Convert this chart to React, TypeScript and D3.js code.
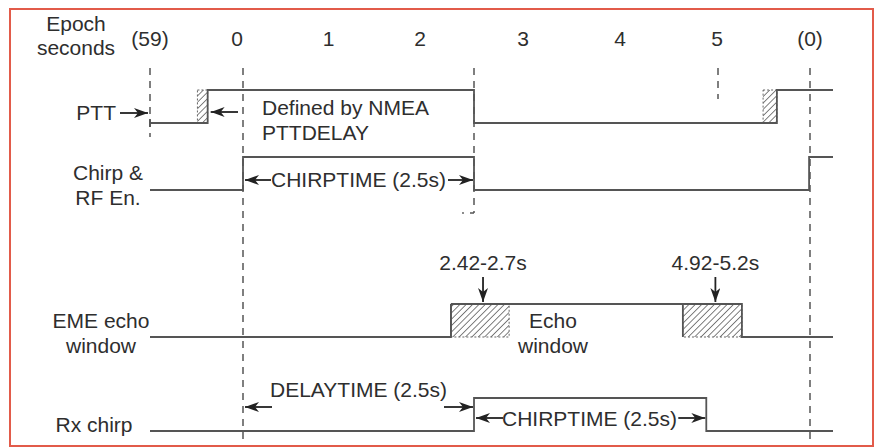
import React from "react";
import * as d3 from "d3";

// time axis (seconds in the epoch)
const tickValues = [-1, 0, 1, 2, 3, 4, 5, 6];
const tickLabels = ["(59)", "0", "1", "2", "3", "4", "5", "(0)"];
const guideTimes = [-1, 0, 2.5, 5, 6];

// step signals: time of each edge and the level after it
const pttT = [-1, -0.38, 2.5, 5.64, 6.25];
const pttV = [0, 1, 0, 1, 1];
const chirpT = [-1, 0, 2.5, 5.99, 6.25];
const chirpV = [0, 1, 0, 1, 1];
const echoT = [-1, 2.25, 5.26, 6.25];
const echoV = [0, 1, 0, 0];
const rxT = [-1, 2.5, 4.88, 6.25];
const rxV = [0, 1, 0, 0];

// hatched uncertainty boxes [start, end]
const pttHatch = [
  [-0.49, -0.38],
  [5.49, 5.64],
];
const echoHatch = [
  [2.25, 2.86],
  [4.64, 5.26],
];
const echoLabels = ["2.42-2.7s", "4.92-5.2s"];

const width = 875;
const height = 448;
const font = "'Liberation Sans', Arial, Helvetica, sans-serif";
const ink = "#2e2e2e";
const lineCol = "#555";

// rows: y of the low level, amplitude of the pulse
const rowLow = { ptt: 123, chirp: 190, echo: 337, rx: 431 };
const amp = 33;
const guideTop = 68;
const guideBottom = [137, 445, 213, 99, 445];

// the drawing is not quite to scale, so the axis is piecewise
const x = d3
  .scaleLinear()
  .domain([-1, 0, 2.5, 5, 6])
  .range([150, 243, 474, 718, 810]);

// tick labels sit a little off the guides in the original
const xLabel = d3
  .scaleLinear()
  .domain([-1, 0, 2, 3, 5, 6])
  .range([150, 237, 420, 523, 717, 810]);

const stepPath = (ts: number[], vs: number[], low: number) =>
  d3
    .line<number>()
    .x((t) => x(t))
    .y((_, i) => low - vs[i] * amp)
    .curve(d3.curveStepAfter)(ts);

const Arrow = ({ x1, y1, x2, y2 }) => (
  <line
    x1={x1}
    y1={y1}
    x2={x2}
    y2={y2}
    stroke="#222"
    strokeWidth={1.8}
    markerEnd="url(#head)"
  />
);

const Label = ({ x, y, children, anchor = "start" }) => (
  <text x={x} y={y} textAnchor={anchor} fontFamily={font} fontSize={21} fill={ink}>
    {children}
  </text>
);

export default function App() {
  return (
    <svg
      width={width}
      height={height}
      style={{ position: "absolute", left: 0, top: 0, background: "#fff" }}
    >
      <defs>
        <marker
          id="head"
          viewBox="0 0 14 10"
          refX={14}
          refY={5}
          markerWidth={14}
          markerHeight={10}
          markerUnits="userSpaceOnUse"
          orient="auto"
        >
          <path d="M0,0 L14,5 L0,10 L4,5 Z" fill="#222" />
        </marker>
        <pattern
          id="hatch"
          width={4.5}
          height={4.5}
          patternUnits="userSpaceOnUse"
          patternTransform="rotate(45)"
        >
          <line x1={0} y1={0} x2={0} y2={4.5} stroke="#3a3a3a" strokeWidth={1.3} />
        </pattern>
      </defs>

      <rect x={10} y={9} width={863} height={437} fill="#fff" stroke="#e25b4a" strokeWidth={2} />

      {/* axis header */}
      <Label x={76} y={31} anchor="middle">Epoch</Label>
      <Label x={76} y={55} anchor="middle">seconds</Label>
      {tickValues.map((t, i) => (
        <Label key={t} x={xLabel(t)} y={46} anchor="middle">
          {tickLabels[i]}
        </Label>
      ))}

      {/* dashed guides */}
      {guideTimes.map((t, i) => (
        <line
          key={t}
          x1={x(t)}
          x2={x(t)}
          y1={guideTop}
          y2={guideBottom[i]}
          stroke={lineCol}
          strokeWidth={1.5}
          strokeDasharray="7,6"
        />
      ))}
      <line x1={x(2.5) - 4} x2={x(2.5)} y1={213} y2={213} stroke={lineCol} strokeWidth={1.5} />
      <circle cx={x(2.5) - 11} cy={213} r={0.9} fill={lineCol} />

      {/* hatch boxes */}
      {pttHatch.map(([a, b], i) => (
        <rect
          key={"p" + i}
          x={x(a)}
          y={rowLow.ptt - amp}
          width={x(b) - x(a)}
          height={amp}
          fill="url(#hatch)"
          stroke="#666"
          strokeWidth={1}
          strokeDasharray="2,2"
        />
      ))}
      {echoHatch.map(([a, b], i) => (
        <rect
          key={"e" + i}
          x={x(a)}
          y={rowLow.echo - amp}
          width={x(b) - x(a)}
          height={amp}
          fill="url(#hatch)"
          stroke="#666"
          strokeWidth={1}
          strokeDasharray="2,2"
        />
      ))}

      {/* signals */}
      <g fill="none" stroke={lineCol} strokeWidth={1.8}>
        <path d={stepPath(pttT, pttV, rowLow.ptt)} />
        <path d={stepPath(chirpT, chirpV, rowLow.chirp)} />
        <path d={stepPath(echoT.slice(0, 2), echoV.slice(0, 2), rowLow.echo)} />
        <path
          d={`M${x(echoT[1])},${rowLow.echo - amp}H${x(echoT[2])}V${rowLow.echo}H${x(echoT[3])}`}
        />
        <line x1={x(echoT[1])} x2={x(echoT[1])} y1={rowLow.echo} y2={rowLow.echo - amp} />
        <line x1={x(echoHatch[1][0])} x2={x(echoHatch[1][0])} y1={rowLow.echo} y2={rowLow.echo - amp} />
        <path d={stepPath(rxT, rxV, rowLow.rx)} />
        <line x1={x(-1)} x2={x(-1)} y1={rowLow.ptt - 4} y2={rowLow.ptt + 4} />
      </g>

      {/* row labels */}
      <Label x={116} y={120} anchor="end">PTT</Label>
      <Arrow x1={120} y1={113} x2={x(-1) - 2} y2={113} />
      <Label x={108} y={180} anchor="middle">Chirp &amp;</Label>
      <Label x={108} y={205} anchor="middle">RF En.</Label>
      <Label x={101} y={328} anchor="middle">EME echo</Label>
      <Label x={101} y={353} anchor="middle">window</Label>
      <Label x={94} y={432} anchor="middle">Rx chirp</Label>

      {/* PTT delay */}
      <Arrow x1={x(0) - 5} y1={112} x2={x(pttHatch[0][1]) + 3} y2={112} />
      <Label x={262} y={115}>Defined by NMEA</Label>
      <Label x={262} y={140}>PTTDELAY</Label>

      {/* chirp time */}
      <Arrow x1={x(0) + 28} y1={180} x2={x(0) + 2} y2={180} />
      <Label x={x(0) + 28} y={187}>CHIRPTIME (2.5s)</Label>
      <Arrow x1={x(2.5) - 26} y1={180} x2={x(2.5) - 1} y2={180} />

      {/* echo window */}
      {echoHatch.map(([a, b], i) => {
        const cx = (x(a) + x(b)) / 2 + 3;
        return (
          <g key={"l" + i}>
            <Label x={cx} y={270} anchor="middle">{echoLabels[i]}</Label>
            <Arrow x1={cx} y1={277} x2={cx} y2={rowLow.echo - amp - 2} />
          </g>
        );
      })}
      <Label x={553} y={328} anchor="middle">Echo</Label>
      <Label x={553} y={353} anchor="middle">window</Label>

      {/* rx delay and chirp */}
      <Label x={x(0) + 27} y={397}>DELAYTIME (2.5s)</Label>
      <Arrow x1={x(0) + 29} y1={407} x2={x(0) + 2} y2={407} />
      <Arrow x1={x(2.5) - 30} y1={407} x2={x(2.5) - 1} y2={407} />
      <Arrow x1={x(2.5) + 29} y1={418} x2={x(2.5) + 2} y2={418} />
      <Label x={x(2.5) + 28} y={426}>CHIRPTIME (2.5s)</Label>
      <Arrow x1={x(rxT[2]) - 28} y1={418} x2={x(rxT[2]) - 1} y2={418} />
    </svg>
  );
}
